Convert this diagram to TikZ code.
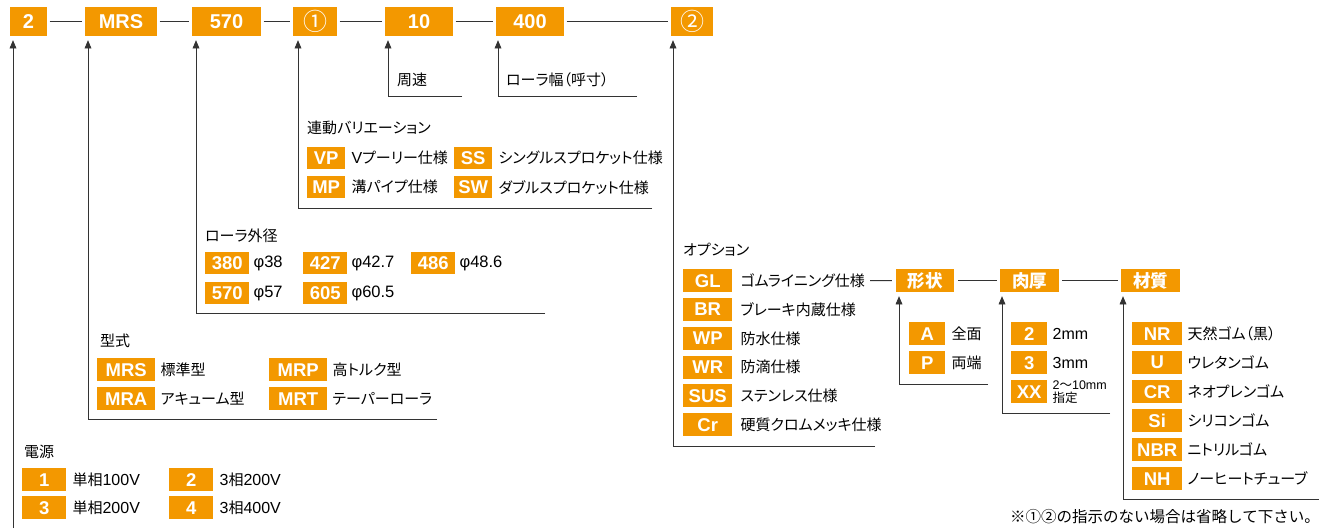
\documentclass[tikz,border=0pt]{standalone}
\usepackage{fontspec}
\setmainfont{Liberation Sans}
\newfontfamily\jp[RawFeature=+palt]{Noto Sans CJK JP}
\newfontfamily\jpfull{Noto Sans CJK JP}
\newfontfamily\lat{Liberation Sans}
\newcommand\lnum[1]{{\lat\fontsize{16}{16}\selectfont #1}}
\usetikzlibrary{arrows}
\definecolor{tagorange}{RGB}{243,152,0}
\tikzset{>={triangle 45}}
\tikzset{
  code/.style={fill=tagorange, text=white, inner sep=0pt, minimum height=29pt,
    font=\bfseries\fontsize{20}{20}\selectfont},
  tag/.style={fill=tagorange, text=white, inner sep=0pt, minimum height=23pt,
    anchor=north west, font=\bfseries\fontsize{18.5}{18.5}\selectfont},
  kanjitag/.style={tag, anchor=center, font=\jp\bfseries\fontsize{17.5}{17.5}\selectfont},
  desc/.style={anchor=west, inner sep=0pt, font=\jp\fontsize{15}{15}\selectfont},
  desclat/.style={desc, font=\fontsize{16.5}{16.5}\selectfont},
  head/.style={desc},
  link/.style={draw=black!80, line width=0.9pt},
  pointer/.style={link, ->, shorten >=4pt},
}

\begin{document}
\begin{tikzpicture}[x=1pt, y=-1pt]
  \path[use as bounding box, fill=white] (0,0) rectangle (1319,528);

  % Code row
  \node[code, minimum width=37pt] (pow) at (28.5,21.5) {2};
  \node[code, minimum width=72pt] (typ) at (121,21.5) {MRS};
  \node[code, minimum width=69pt] (dia) at (226.5,21.5) {570};
  \node[code, minimum width=44pt, font=\jpfull\fontsize{24}{24}\selectfont] (var) at (315,21.5) {①};
  \node[code, minimum width=68pt] (spd) at (419,21.5) {10};
  \node[code, minimum width=68pt] (wid) at (530,21.5) {400};
  \node[code, minimum width=42pt, font=\jpfull\fontsize{24}{24}\selectfont] (opt) at (692,21.5) {②};
  \foreach \a/\b in {pow/typ, typ/dia, dia/var, var/spd, spd/wid, wid/opt}
    \draw[link, shorten <=2.5pt, shorten >=2.5pt] (\a) -- (\b);

  % Bracket corners
  \coordinate (powB) at (13,528);
  \coordinate (typB) at (88,419);   \coordinate (typE) at (437,419);
  \coordinate (diaB) at (196,313);  \coordinate (diaE) at (545,313);
  \coordinate (varB) at (298,208);  \coordinate (varE) at (652,208);
  \coordinate (spdB) at (388,96);   \coordinate (spdE) at (462,96);
  \coordinate (widB) at (498,96);   \coordinate (widE) at (637,96);
  \coordinate (optB) at (673,446);  \coordinate (optE) at (875,446);

  \draw[pointer] (powB) -- (powB |- pow.south);
  \foreach \n in {typ, dia, var, spd, wid, opt}
    \draw[pointer] (\n E) -- (\n B) -- (\n B |- \n.south);

  % Headings
  \node[head] (powH) at (24,452) {電源};
  \node[head] (typH) at (100,341) {型式};
  \node[head] (diaH) at (205,236) {ローラ外径};
  \node[head] (varH) at (307,128) {連動バリエーション};
  \node[head] (spdH) at (397,80) {周速};
  \node[head] (widH) at (506,80) {ローラ幅（呼寸）};
  \node[head] (optH) at (683,250) {オプション};

  % Power supply
  \foreach \k/\t/\x/\y [count=\i] in {1/単相\lnum{100V}/22/468, 2/\lnum{3}相\lnum{200V}/169/468,
      3/単相\lnum{200V}/22/496, 4/\lnum{3}相\lnum{400V}/169/496} {
    \node[tag, minimum width=44pt] (p\i) at (\x,\y) {\k};
    \node[desc] (p\i-t) at ([xshift=6pt]p\i.east) {\t};
  }

  % Type
  \foreach \k/\t/\x/\y [count=\i] in {MRS/標準型/97/358, MRP/高トルク型/269/358,
      MRA/アキューム型/97/387, MRT/テーパーローラ/269/387} {
    \node[tag, minimum width=58pt] (m\i) at (\x,\y) {\k};
    \node[desc] (m\i-t) at ([xshift=5pt]m\i.east) {\t};
  }

  % Roller diameter
  \foreach \k/\t/\x/\y [count=\i] in {380/38/205/252, 427/42.7/303/252, 486/48.6/411/252,
      570/57/205/282, 605/60.5/303/282} {
    \node[tag, minimum width=44pt, minimum height=22pt] (d\i) at (\x,\y) {\k};
    \node[desclat] (d\i-t) at ([xshift=4pt]d\i.east) {φ\t};
  }

  % Variation
  \foreach \k/\t/\x/\y [count=\i] in {VP/\lnum{V}プーリー仕様/307/147, SS/シングルスプロケット仕様/454/147,
      MP/溝パイプ仕様/307/176, SW/ダブルスプロケット仕様/454/176} {
    \node[tag, minimum width=38pt, minimum height=22pt] (v\i) at (\x,\y) {\k};
    \node[desc] (v\i-t) at ([xshift=6pt]v\i.east) {\t};
  }

  % Options
  \foreach \k/\t [count=\i] in {GL/ゴムライニング仕様, BR/ブレーキ内蔵仕様, WP/防水仕様,
      WR/防滴仕様, SUS/ステンレス仕様, Cr/硬質クロムメッキ仕様} {
    \node[tag, minimum width=49pt] (o\i) at (683,{269+28.8*(\i-1)}) {\k};
    \node[desc] (o\i-t) at ([xshift=8pt]o\i.east) {\t};
  }

  % Lining chain
  \node[kanjitag, minimum width=58pt] (shp) at (925,280.5) {形状};
  \node[kanjitag, minimum width=59pt] (thk) at (1029.5,280.5) {肉厚};
  \node[kanjitag, minimum width=59pt] (mat) at (1150.5,280.5) {材質};
  \draw[link, shorten <=5pt, shorten >=4pt] (o1-t) -- (shp);
  \draw[link, shorten <=4pt, shorten >=3pt] (shp) -- (thk);
  \draw[link, shorten <=3pt, shorten >=3pt] (thk) -- (mat);

  \coordinate (shpB) at (899,384);   \coordinate (shpE) at (988,384);
  \coordinate (thkB) at (1002,413);  \coordinate (thkE) at (1110,413);
  \coordinate (matB) at (1123,499);  \coordinate (matE) at (1319,499);
  \foreach \n in {shp, thk, mat}
    \draw[pointer] (\n E) -- (\n B) -- (\n B |- \n.south);

  % Shape
  \foreach \k/\t [count=\i] in {A/全面, P/両端} {
    \node[tag, minimum width=36pt] (s\i) at (909,{322+29*(\i-1)}) {\k};
    \node[desc] (s\i-t) at ([xshift=6pt]s\i.east) {\t};
  }

  % Thickness
  \foreach \k/\t [count=\i] in {2/\lnum{2mm}, 3/\lnum{3mm}} {
    \node[tag, minimum width=36pt] (h\i) at (1011,{322+29*(\i-1)}) {\k};
    \node[desc] (h\i-t) at ([xshift=5pt]h\i.east) {\t};
  }
  \node[tag, minimum width=36pt] (h3) at (1011,380) {XX};
  \node[desc, align=left, font=\jp\fontsize{12.5}{13}\selectfont] (h3-t)
    at ([xshift=5pt]h3.east) {{\lat 2}〜{\lat 10mm}\\指定};

  % Material
  \foreach \k/\t [count=\i] in {NR/天然ゴム（黒）, U/ウレタンゴム, CR/ネオプレンゴム,
      Si/シリコンゴム, NBR/ニトリルゴム, NH/ノーヒートチューブ} {
    \node[tag, minimum width=50pt] (r\i) at (1132,{322+29*(\i-1)}) {\k};
    \node[desc] (r\i-t) at ([xshift=5pt]r\i.east) {\t};
  }

  % Footnote
  \node[desc, font=\jpfull\fontsize{15.5}{15.5}\selectfont] (fn) at (1010,517)
    {※①②の指示のない場合は省略して下さい。};
\end{tikzpicture}
\end{document}
